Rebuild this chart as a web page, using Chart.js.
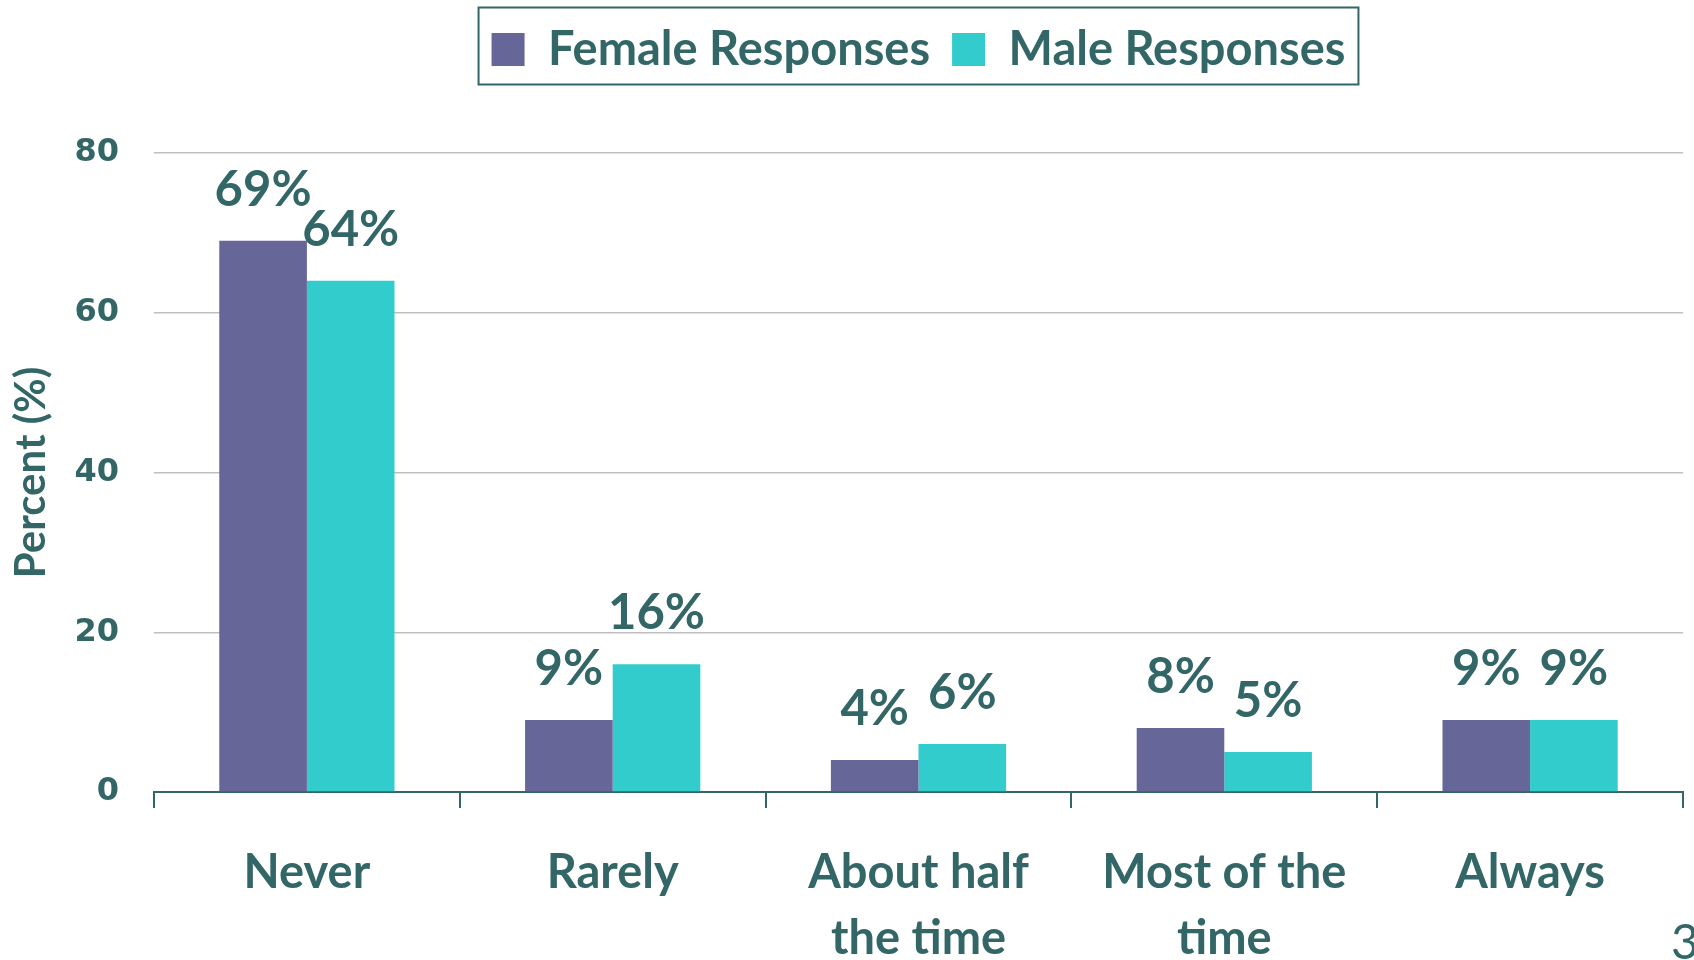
<!DOCTYPE html>
<html>
<head>
<meta charset="utf-8">
<script src="https://cdn.jsdelivr.net/npm/chart.js@4.4.0/dist/chart.umd.min.js"></script>
<style>
  html, body { margin: 0; padding: 0; background: #ffffff; }
  #wrap { width: 1694px; height: 960px; position: relative; }
</style>
</head>
<body>
<div id="wrap"><canvas id="grafico"></canvas></div>
<script>
// Datos del gráfico
const categorias = ['Never', 'Rarely', ['About half', 'the time'], ['Most of the', 'time'], 'Always'];
const respuestasMujeres = [69, 9, 4, 8, 9];
const respuestasHombres = [64, 16, 6, 5, 9];
const ticksY = [0, 20, 40, 60, 80];
const numeroPagina = '3';

const TEAL = '#336666';
const FUENTE = 'Lato, "Open Sans", sans-serif';

// Etiquetas de porcentaje encima de cada barra
const etiquetasBarras = {
    id: 'etiquetasBarras',
    afterDatasetsDraw(chart) {
        const ctx = chart.ctx;
        ctx.save();
        ctx.font = 'bold 49px ' + FUENTE;
        ctx.fillStyle = TEAL;
        ctx.textAlign = 'center';
        ctx.textBaseline = 'middle';
        chart.data.datasets.forEach((ds, i) => {
            chart.getDatasetMeta(i).data.forEach((bar, j) => {
                ctx.fillText(ds.data[j] + '%', bar.x, bar.y - 51);
            });
        });
        ctx.restore();
    }
};

// Leyenda centrada sobre el área del gráfico, con marco, y número de página
const marcoLeyenda = {
    id: 'marcoLeyenda',
    beforeLayout(chart) {
        const lg = chart.legend;
        if (lg && !lg._ajustada) {
            const fitOriginal = lg.fit.bind(lg);
            lg.fit = function () {
                fitOriginal();
                this.height = 149; // deja el área del gráfico empezando en ~153px
            };
            lg._ajustada = true;
        }
    },
    afterLayout(chart) {
        const lg = chart.legend;
        if (!lg || !lg.legendHitBoxes) return;
        // Centrar la leyenda sobre el área de trazado, no sobre todo el lienzo
        const tops = lg.legendHitBoxes.map(c => c.top);
        lg.left = chart.chartArea.left;
        lg.right = chart.chartArea.right;
        lg.width = lg.right - lg.left;
        if (lg.adjustHitBoxes) {
            lg.adjustHitBoxes();
            lg.legendHitBoxes.forEach((c, i) => { c.top = tops[i]; });
        }
    },
    afterDraw(chart) {
        const ctx = chart.ctx;
        const cajas = chart.legend ? chart.legend.legendHitBoxes : [];
        if (cajas.length) {
            const izq = Math.min(...cajas.map(c => c.left)) - 13;
            const der = Math.max(...cajas.map(c => c.left + c.width)) + 13;
            const medio = cajas[0].top + cajas[0].height / 2;
            ctx.save();
            ctx.strokeStyle = TEAL;
            ctx.lineWidth = 2;
            ctx.strokeRect(izq, medio - 42, der - izq, 77);
            ctx.restore();
        }
        ctx.save();
        ctx.font = '48px ' + FUENTE;
        ctx.fillStyle = TEAL;
        ctx.textAlign = 'left';
        ctx.textBaseline = 'alphabetic';
        ctx.fillText(numeroPagina, 1671, 959);
        ctx.restore();
    }
};

new Chart(document.getElementById('grafico'), {
    type: 'bar',
    data: {
        labels: categorias,
        datasets: [
            {
                label: 'Female Responses',
                data: respuestasMujeres,
                backgroundColor: '#666699',
                categoryPercentage: 0.573,
                barPercentage: 1
            },
            {
                label: 'Male Responses',
                data: respuestasHombres,
                backgroundColor: '#33CCCC',
                categoryPercentage: 0.573,
                barPercentage: 1
            }
        ]
    },
    options: {
        responsive: true,
        maintainAspectRatio: false,
        animation: false,
        layout: { padding: { top: 4, left: 0, right: 11, bottom: 0 } },
        plugins: {
            tooltip: { enabled: false },
            legend: {
                position: 'top',
                labels: {
                    color: TEAL,
                    font: { family: FUENTE, size: 47, weight: 'bold' },
                    boxWidth: 33,
                    boxHeight: 33,
                    padding: 22
                }
            }
        },
        scales: {
            x: {
                grid: {
                    offset: true,
                    drawOnChartArea: false,
                    drawTicks: true,
                    tickLength: 16,
                    color: TEAL,
                    lineWidth: 2
                },
                border: { color: TEAL, width: 2 },
                ticks: {
                    color: TEAL,
                    font: { family: FUENTE, size: 47, weight: 'bold', lineHeight: 1.42 },
                    padding: 31,
                    maxRotation: 0,
                    autoSkip: false
                },
                afterFit(s) { s.height = 168; }
            },
            y: {
                min: ticksY[0],
                max: ticksY[ticksY.length - 1],
                afterBuildTicks(s) { s.ticks = ticksY.map(v => ({ value: v })); },
                grid: { color: '#BFBFBF', lineWidth: 1.5, drawTicks: false },
                border: { display: false },
                ticks: {
                    color: TEAL,
                    font: { family: '"DejaVu Sans", sans-serif', size: 32, weight: 'bold' },
                    padding: 35
                },
                title: {
                    display: true,
                    text: 'Percent (%)',
                    color: TEAL,
                    font: { family: FUENTE, size: 42, weight: 'bold' },
                    padding: { top: 6, bottom: 0 }
                },
                afterFit(s) { s.width = 154; }
            }
        }
    },
    plugins: [etiquetasBarras, marcoLeyenda]
});
</script>
</body>
</html>
